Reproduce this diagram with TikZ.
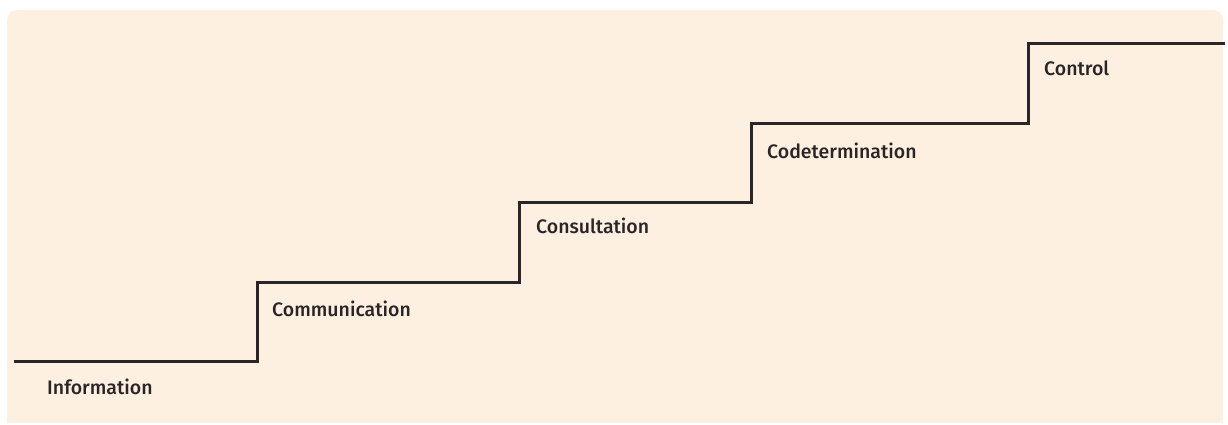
\documentclass[tikz,border=0pt]{standalone}
\usepackage{fontspec}
\setmainfont{Fira Sans}[UprightFont=* Medium]
\definecolor{paper}{HTML}{FEF0E1}
\definecolor{ink}{HTML}{2A2526}
\begin{document}
\begin{tikzpicture}[x=1pt,y=1pt,
  stair/.style={draw=ink,line width=3pt,line join=miter},
  steplabel/.style={anchor=base west,inner sep=0pt,text=ink,font=\fontsize{19.5}{22}\selectfont}]
\useasboundingbox (0,0) rectangle (1228,425);
% cream panel
\fill[paper,rounded corners=10pt] (7,2) -- (7,415) -- (1223,415) -- (1223,2) [sharp corners] -- cycle;
\fill[paper] (7,2) rectangle (30,30);
\fill[paper] (1200,2) rectangle (1223,30);
% staircase corners
\coordinate (s0) at (14,63);
\coordinate (c1) at (257,63);
\coordinate (c2) at (257,142.5);
\coordinate (c3) at (519,142.5);
\coordinate (c4) at (519,222);
\coordinate (c5) at (751,222);
\coordinate (c6) at (751,301);
\coordinate (c7) at (1028,301);
\coordinate (c8) at (1028,381);
\coordinate (s9) at (1225,381);
\draw[stair] (s0) -- (c1) -- (c2) -- (c3) -- (c4) -- (c5) -- (c6) -- (c7) -- (c8) -- (s9);
% labels on each step
\node[steplabel] (l1) at (47,30) {Information};
\node[steplabel] (l2) at (272,108.5) {Communication};
\node[steplabel] (l3) at (536,191) {Consultation};
\node[steplabel] (l4) at (767,266.5) {Codetermination};
\node[steplabel] (l5) at (1044,349) {Control};
\end{tikzpicture}
\end{document}
